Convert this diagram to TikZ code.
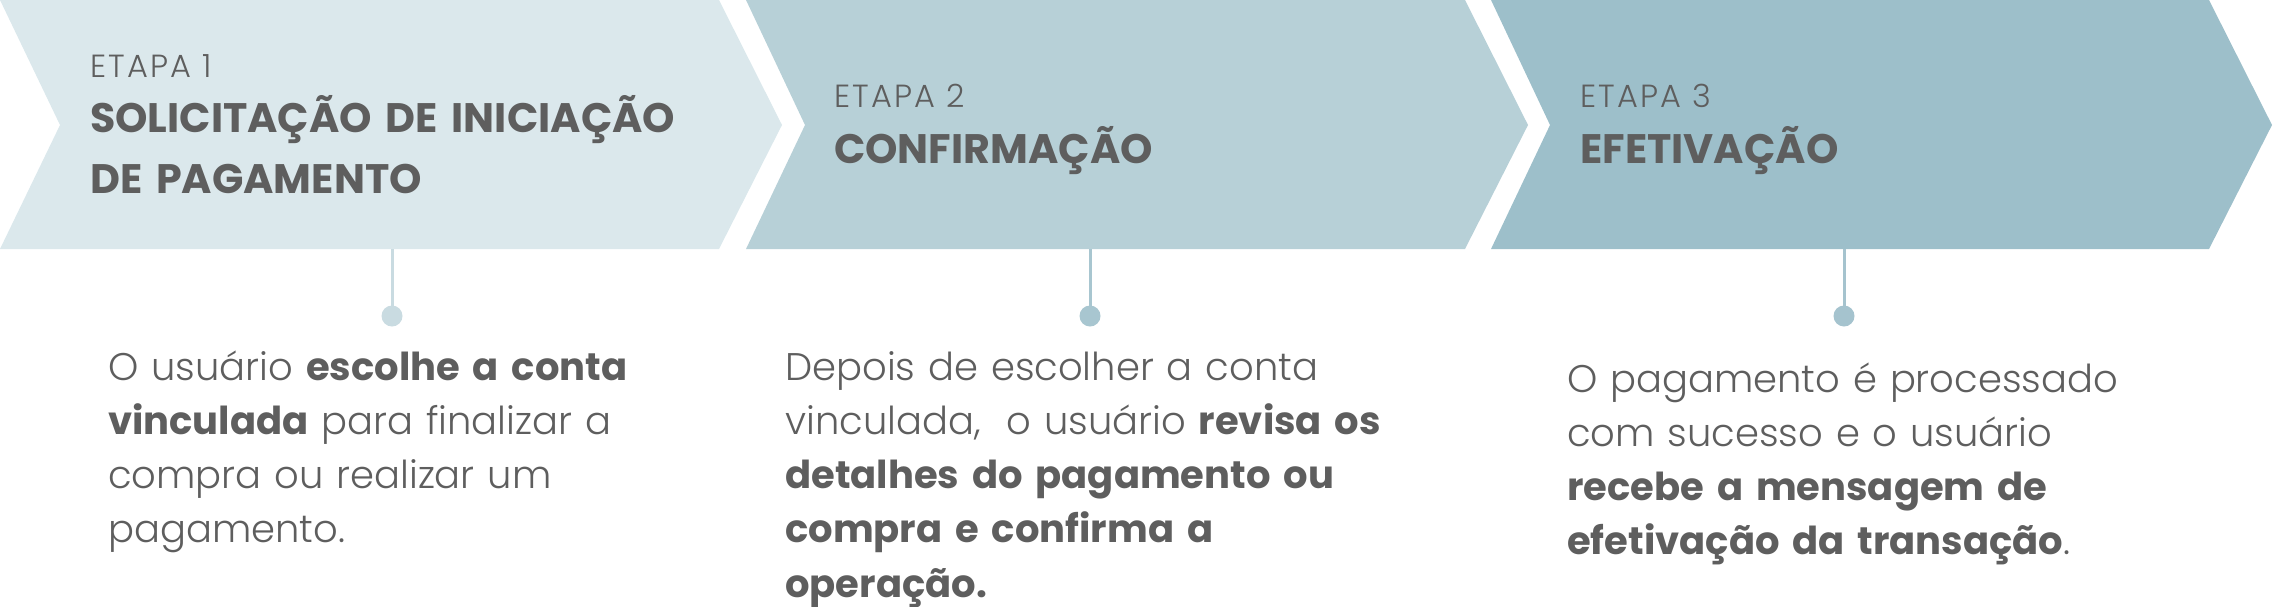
\documentclass[tikz,border=0pt]{standalone}
\usepackage{fontspec}
\setmainfont{Poppins}[UprightFont={* Light},BoldFont={* Bold}]
\newfontfamily\ttlfont{Poppins}[UprightFont={* Bold}]
\newfontfamily\lblfont{Poppins}[UprightFont={* Light},LetterSpace=7]
\definecolor{cA}{HTML}{DBE8EC}
\definecolor{cB}{HTML}{B7D0D7}
\definecolor{cC}{HTML}{9DBFCA}
\definecolor{dA}{HTML}{C9DBE1}
\definecolor{dB}{HTML}{A8C6D0}
\definecolor{dC}{HTML}{A5C3CE}
\definecolor{txt}{HTML}{5E5E5E}
\tikzset{
  lbl/.style={anchor=base west,inner sep=0pt,text=txt,font=\fontsize{32}{40}\selectfont\lblfont},
  ttl/.style={anchor=base west,inner sep=0pt,text=txt,text width=800pt,align=left,font=\fontsize{41.2}{61}\selectfont\ttlfont},
  body/.style={anchor=base west,inner sep=0pt,text=txt,text width=700pt,align=left,font=\fontsize{38.5}{54.3}\selectfont},
  dot/.style={circle,inner sep=0pt,minimum size=21pt},
  stem/.style={line width=3pt}
}
\begin{document}
\begin{tikzpicture}[x=1pt,y=-1pt]
\useasboundingbox (0,0) rectangle (2274,606);
% chevrons
\fill[cA] (0,0) -- (719,0) -- (782,125) -- (719,249) -- (0,249) -- (60,125) -- cycle;
\fill[cB] (746,0) -- (1465,0) -- (1528,125) -- (1465,249) -- (746,249) -- (805,125) -- cycle;
\fill[cC] (1491,0) -- (2209,0) -- (2272,125) -- (2209,249) -- (1491,249) -- (1550,125) -- cycle;
% headings
\node[lbl] (l1) at (90,77) {ETAPA 1};
\node[ttl] (t1) at (90,132) {SOLICITAÇÃO DE INICIAÇÃO\\DE PAGAMENTO};
\node[lbl] (l2) at (834,107) {ETAPA 2};
\node[ttl] (t2) at (834,163) {CONFIRMAÇÃO};
\node[lbl] (l3) at (1580,107) {ETAPA 3};
\node[ttl] (t3) at (1580,163) {EFETIVAÇÃO};
% stems and dots
\coordinate (s1) at (392,249);
\coordinate (s2) at (1090,249);
\coordinate (s3) at (1844,249);
\node[dot,fill=dA] (d1) at (392,316) {};
\node[dot,fill=dB] (d2) at (1090,316) {};
\node[dot,fill=dC] (d3) at (1844,316) {};
\draw[stem,dA] (s1) -- (d1.center);
\draw[stem,dB] (s2) -- (d2.center);
\draw[stem,dC] (s3) -- (d3.center);
% body texts
\node[body] (b1) at (108,380) {O usuário \textbf{escolhe a conta}\\\textbf{vinculada} para finalizar a\\compra ou realizar um\\pagamento.};
\node[body] (b2) at (785,380) {Depois de escolher a conta\\vinculada,\ \ o usuário \textbf{revisa os}\\\textbf{detalhes do pagamento ou}\\\textbf{compra e confirma a}\\\textbf{operação.}};
\node[body] (b3) at (1567,392) {O pagamento é processado\\com sucesso e o usuário\\\textbf{recebe a mensagem de}\\\textbf{efetivação da transação}.};
\end{tikzpicture}
\end{document}
